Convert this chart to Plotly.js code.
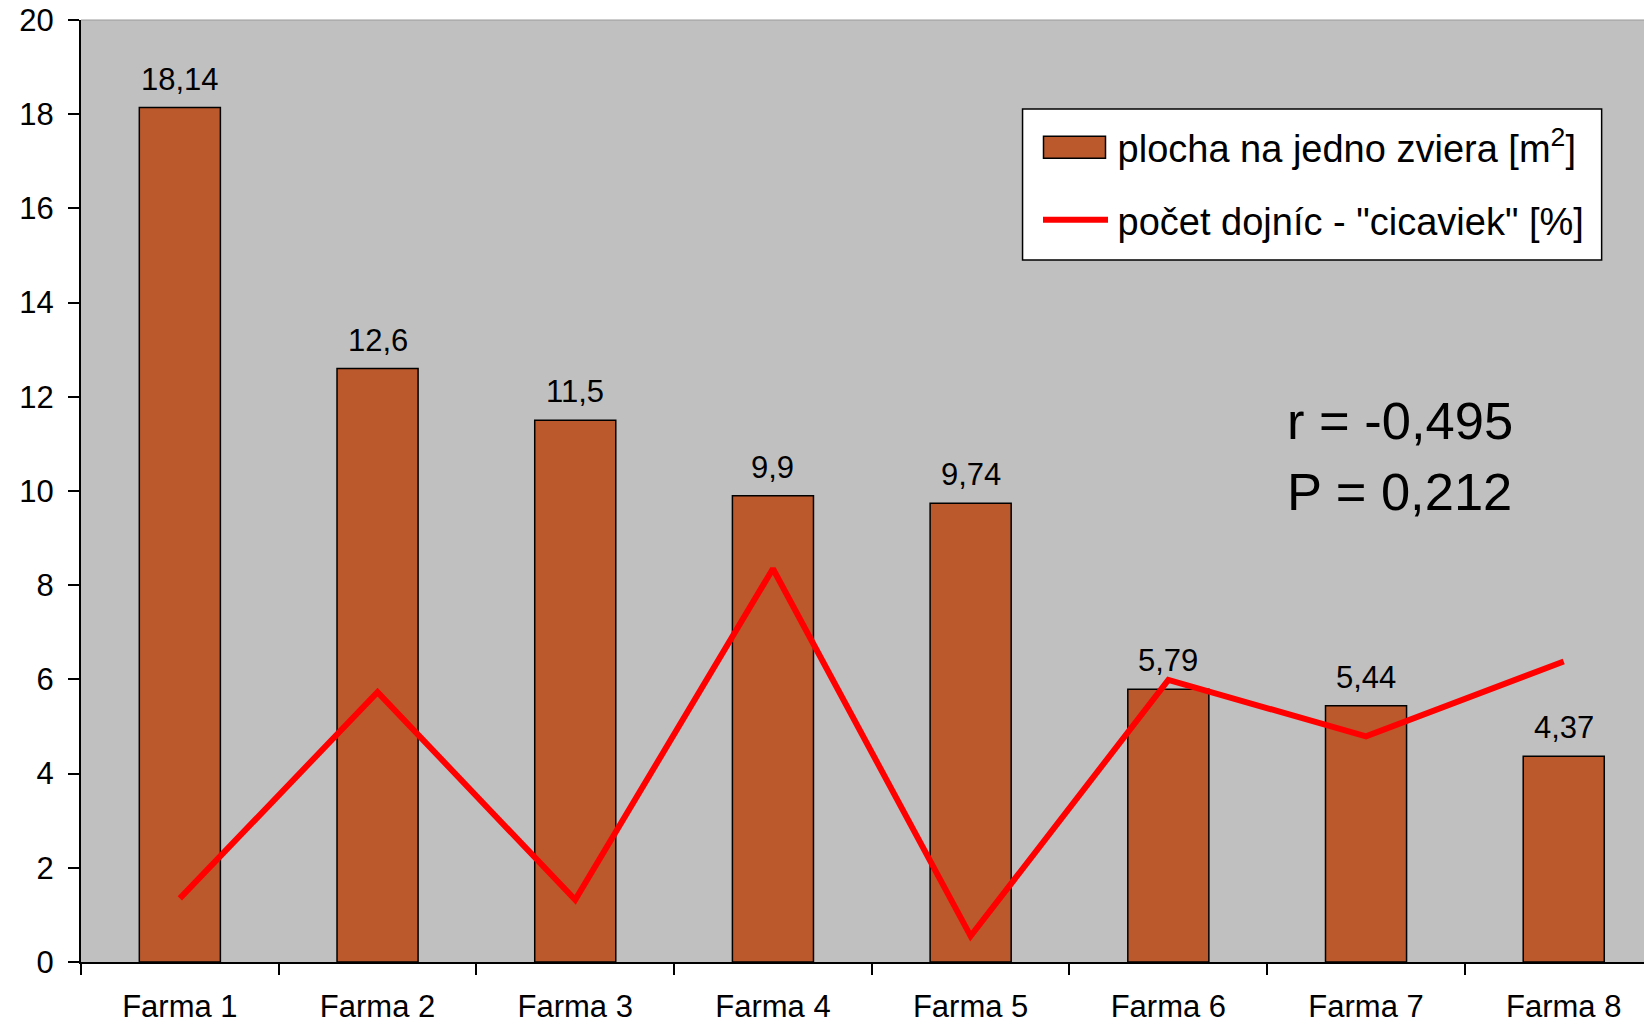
<!DOCTYPE html>
<html>
<head>
<meta charset="utf-8">
<script src="https://cdn.plot.ly/plotly-3.0.1.min.js"></script>
<style>
  html, body { margin: 0; padding: 0; background: #ffffff; }
  #chart { width: 1644px; height: 1023px; }
</style>
</head>
<body>
<div id="chart"></div>
<script>
// ---- data ----
const categories = ["Farma 1", "Farma 2", "Farma 3", "Farma 4", "Farma 5", "Farma 6", "Farma 7", "Farma 8"];
const areaPerAnimal = [18.14, 12.6, 11.5, 9.9, 9.74, 5.79, 5.44, 4.37];        // plocha na jedno zviera [m2]
const cicaviekPercent = [1.35, 5.73, 1.32, 8.35, 0.55, 5.99, 4.79, 6.38];     // počet dojníc - "cicaviek" [%]
const areaLabels = areaPerAnimal.map(v => String(v).replace('.', ','));
const yTickValues = [0, 2, 4, 6, 8, 10, 12, 14, 16, 18, 20];
const statLines = ["r = -0,495", "P = 0,212"];

const FONT = "Liberation Sans, Arial, Helvetica, sans-serif";

const barTrace = {
  type: 'bar',
  name: 'plocha na jedno zviera [m<sup>2</sup>]',
  x: categories,
  y: areaPerAnimal,
  width: 0.41,
  marker: { color: '#BC592C', line: { color: '#000000', width: 1.5 } },
  legendgroup: 'a',
  hoverinfo: 'x+y'
};

const lineTrace = {
  type: 'scatter',
  mode: 'lines',
  name: 'počet dojníc - "cicaviek" [%]',
  x: categories,
  y: cicaviekPercent,
  line: { color: '#FF0000', width: 6 },
  legendgroup: 'b',
  hoverinfo: 'x+y'
};

// value labels above the bars, built from the data arrays
const valueLabels = categories.map((c, i) => ({
  x: c, y: areaPerAnimal[i], xref: 'x', yref: 'y',
  text: areaLabels[i], showarrow: false,
  xanchor: 'center', yanchor: 'bottom', yshift: 9,
  font: { family: FONT, size: 31, color: '#000000' }
}));

const statAnnotations = [
  { xref: 'paper', yref: 'paper', x: 0.7703, y: 0.575, xanchor: 'left', yanchor: 'middle',
    text: statLines[0], showarrow: false, font: { family: FONT, size: 52.5, color: '#000000' } },
  { xref: 'paper', yref: 'paper', x: 0.7703, y: 0.499, xanchor: 'left', yanchor: 'middle',
    text: statLines[1], showarrow: false, font: { family: FONT, size: 52.5, color: '#000000' } }
];

const layout = {
  width: 1644,
  height: 1023,
  margin: { l: 81, r: 0, t: 20, b: 61, pad: 0 },
  paper_bgcolor: '#ffffff',
  plot_bgcolor: '#C0C0C0',
  font: { family: FONT, size: 31, color: '#000000' },
  showlegend: true,
  legend: {
    x: 0.6024, y: 0.898, xanchor: 'left', yanchor: 'top',
    bgcolor: 'rgba(0,0,0,0)', borderwidth: 0,
    font: { family: FONT, size: 38, color: '#000000' },
    itemwidth: 85,
    tracegroupgap: 20,
    traceorder: 'grouped'
  },
  xaxis: {
    type: 'category',
    range: [-0.5, 7.406],
    showline: true, linecolor: '#000000', linewidth: 2,
    ticks: 'outside', tickson: 'boundaries', ticklen: 11, tickwidth: 2, tickcolor: '#000000',
    showgrid: false, zeroline: false,
    tickfont: { family: FONT, size: 31, color: '#000000' },
    ticklabelstandoff: 16
  },
  yaxis: {
    range: [0, 20],
    tickvals: yTickValues,
    showline: true, linecolor: '#000000', linewidth: 2,
    ticks: 'outside', ticklen: 11, tickwidth: 2, tickcolor: '#000000',
    showgrid: false, zeroline: false,
    tickfont: { family: FONT, size: 31, color: '#000000' },
    ticklabelstandoff: 8
  },
  shapes: [
    { type: 'line', xref: 'paper', yref: 'paper', x0: 0, x1: 1, y0: 1, y1: 1,
      line: { color: '#9A9A9A', width: 1 } },
    // legend frame
    { type: 'rect', xref: 'paper', yref: 'paper', layer: 'above',
      x0: 0.6024, x1: 0.9729, y0: 0.7452, y1: 0.9055,
      fillcolor: '#ffffff', line: { color: '#000000', width: 1.5 } }
  ],
  annotations: valueLabels.concat(statAnnotations)
};

Plotly.newPlot('chart', [barTrace, lineTrace], layout, { displayModeBar: false, staticPlot: true })
  .then(function (gd) {
    try {
      // enlarge legend symbols to match the reference's wide swatches
      const groups = gd.querySelectorAll('.legend .traces');
      let barSym = null, lineSym = null;
      groups.forEach(function (g) {
        const lp = g.querySelector('.legendpoints path');
        const ll = g.querySelector('.legendlines path');
        if (ll && !lineSym) lineSym = ll;
        else if (lp && !barSym) barSym = lp;
      });
      if (barSym) {
        const r = barSym.getBoundingClientRect();
        const cx = (r.left + r.right) / 2;
        const m = /translate\(\s*([-\d.]+)/.exec(barSym.getAttribute('transform') || '');
        const tx = m ? parseFloat(m[1]) : 0;
        const newTx = tx + (1074.5 - cx);
        barSym.setAttribute('d', 'M-31,11H31V-11H-31Z');
        barSym.setAttribute('transform', 'translate(' + newTx + ',0)');
        barSym.style.strokeWidth = '1.5px';
        barSym.style.stroke = '#000000';
      }
      if (lineSym) {
        const r = lineSym.getBoundingClientRect();
        const m = /M\s*([-\d.]+)/.exec(lineSym.getAttribute('d') || '');
        const x0 = m ? parseFloat(m[1]) : 5;
        const nx0 = x0 + (1043 - r.left);
        lineSym.setAttribute('d', 'M' + nx0 + ',0h65');
        lineSym.style.strokeWidth = '6px';
      }
    } catch (e) { /* keep default symbols */ }
  });
</script>
</body>
</html>
